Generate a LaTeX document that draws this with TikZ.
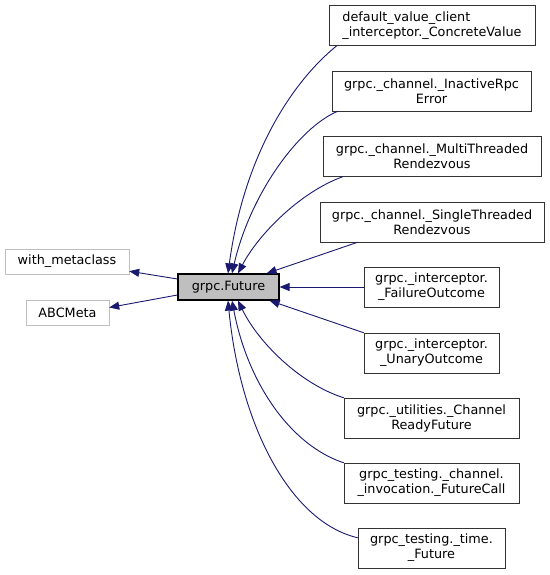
\documentclass[tikz,border=0pt]{standalone}
\usepackage{fontspec}
\setmainfont{DejaVu Sans}
\usetikzlibrary{arrows.meta}
\definecolor{navy}{RGB}{25,25,112}
\definecolor{grey75}{RGB}{191,191,191}

\begin{document}
\begin{tikzpicture}[x=1pt,y=-1pt]
    \tikzstyle{cls}=[draw=black!80,shape=rectangle,align=center,inner sep=0pt,minimum height=40pt,font=\fontsize{12.8}{15}\selectfont]
    \tikzstyle{base}=[cls,draw=grey75,minimum height=25pt]
    \tikzstyle{focus}=[cls,draw=black,fill=grey75,line width=1.2pt,minimum height=26pt]
    \tikzstyle{arrow}=[draw=navy,line width=0.9pt,-{Triangle[length=10pt,width=8pt]}]

    \useasboundingbox (0,0) rectangle (549,575);

    \node[focus,minimum width=101pt] (fut) at (228.5,287) {grpc.Future};
    \node[base,minimum width=124pt] (wm) at (67,261.5) {with\_metaclass};
    \node[base,minimum width=83pt] (abc) at (67.5,312.5) {ABCMeta};

    \node[cls,align=left,minimum width=206pt] (cv) at (432,25.5) {default\_value\_client\\\_interceptor.\_ConcreteValue};
    \node[cls,minimum width=199pt] (irpc) at (431.5,91) {grpc.\_channel.\_InactiveRpc\\Error};
    \node[cls,minimum width=218pt] (multi) at (432,156.5) {grpc.\_channel.\_MultiThreaded\\Rendezvous};
    \node[cls,minimum width=224pt] (single) at (432,222) {grpc.\_channel.\_SingleThreaded\\Rendezvous};
    \node[cls,minimum width=135pt] (fail) at (431.5,287) {grpc.\_interceptor.\\\_FailureOutcome};
    \node[cls,minimum width=135pt] (unary) at (431.5,353) {grpc.\_interceptor.\\\_UnaryOutcome};
    \node[cls,minimum width=175pt] (ready) at (431.5,418) {grpc.\_utilities.\_Channel\\ReadyFuture};
    \node[cls,minimum width=175pt] (fcall) at (431.5,483) {grpc\_testing.\_channel.\\\_invocation.\_FutureCall};
    \node[cls,minimum width=147pt] (tfut) at (431.5,548) {grpc\_testing.\_time.\\\_Future};

    % bases
    \path[arrow] ([yshift=8pt]fut.west) -- ([yshift=3pt]wm.south east);
    \path[arrow] ([yshift=-8pt]fut.west) -- ([yshift=5pt]abc.east);

    % subclasses
    \path[arrow] ([xshift=8pt]cv.south west) .. controls (292,82) and (244,155) .. ([xshift=-0.5pt]fut.north);
    \path[arrow] ([xshift=6pt]irpc.south west) .. controls (298,128) and (250,195) .. ([xshift=3.5pt]fut.north);
    \path[arrow] ([xshift=20pt]multi.south west) .. controls (300,192) and (258,235) .. ([xshift=9.5pt]fut.north);
    \path[arrow] ([xshift=38pt]single.south west) -- ([xshift=-13pt]fut.north east);
    \path[arrow] (fail) -- (fut);
    \path[arrow] (unary.north west) -- ([xshift=-10pt]fut.south east);
    \path[arrow] (ready.north west) .. controls (300,384) and (258,342) .. ([xshift=9.5pt]fut.south);
    \path[arrow] (fcall.north west) .. controls (292,446) and (248,385) .. ([xshift=3.5pt]fut.south);
    \path[arrow] ([yshift=-10pt]tfut.north west) .. controls (290,522) and (240,425) .. ([xshift=-0.5pt]fut.south);
\end{tikzpicture}
\end{document}
